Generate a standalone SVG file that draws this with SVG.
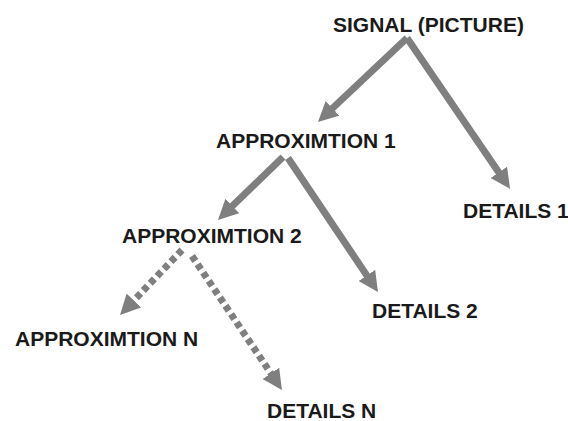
<svg xmlns="http://www.w3.org/2000/svg" width="568" height="421" viewBox="0 0 568 421">
<style>
.lbl{font-family:"Liberation Sans",Arial,sans-serif;font-weight:bold;font-size:21px;fill:#1a1a1a}
.arr{stroke:#7f7f7f;stroke-width:7;fill:none;marker-end:url(#head)}
.dash{stroke-dasharray:6 4}
</style>
<defs>
<marker id="head" viewBox="0 0 20 20" refX="8" refY="10" markerWidth="20" markerHeight="20" markerUnits="userSpaceOnUse" orient="auto">
<path d="M0,0 L20,10 L0,20 z" fill="#7f7f7f"/>
</marker>
</defs>
<rect width="568" height="421" fill="#fff"/>
<g id="connectors">
<line class="arr" x1="407" y1="38" x2="326.7" y2="113.8"/>
<line class="arr" x1="407" y1="38" x2="503.3" y2="179"/>
<line class="arr" x1="283" y1="157" x2="226.6" y2="211.6"/>
<line class="arr" x1="288" y1="158" x2="371.3" y2="282.1"/>
<line class="arr dash" x1="182" y1="250" x2="128.3" y2="306.3"/>
<line class="arr dash" x1="192" y1="256" x2="275.3" y2="380"/>
</g>
<g id="signal"><text class="lbl" x="333" y="32">SIGNAL (PICTURE)</text></g>
<g id="approx1"><text class="lbl" x="216" y="148">APPROXIMTION 1</text></g>
<g id="details1"><text class="lbl" x="463" y="218">DETAILS 1</text></g>
<g id="approx2"><text class="lbl" x="122" y="243">APPROXIMTION 2</text></g>
<g id="details2"><text class="lbl" x="372" y="318">DETAILS 2</text></g>
<g id="approxN"><text class="lbl" x="15" y="346">APPROXIMTION N</text></g>
<g id="detailsN"><text class="lbl" x="267" y="418">DETAILS N</text></g>
</svg>
